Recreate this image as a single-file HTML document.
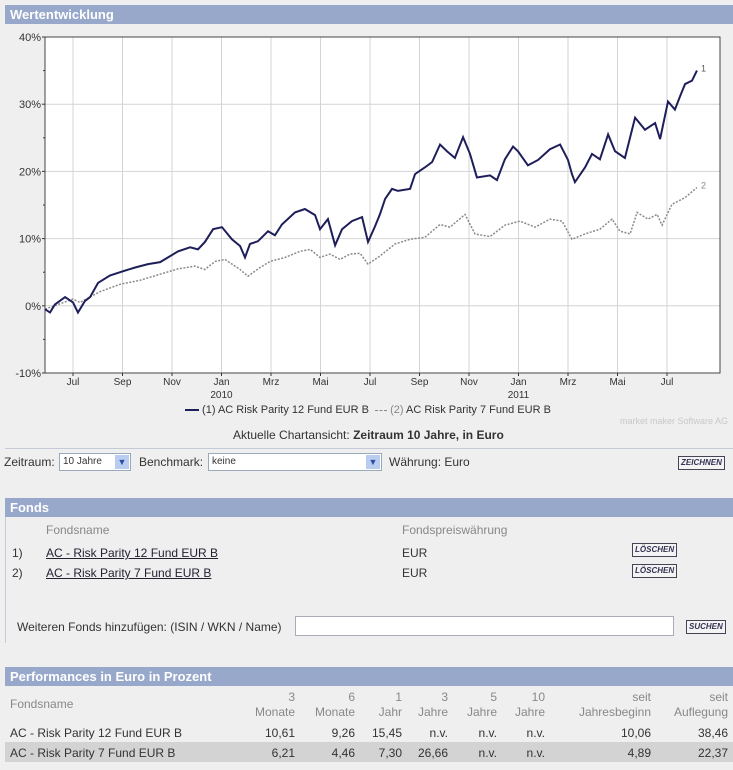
<!DOCTYPE html>
<html><head><meta charset="utf-8">
<style>
body{margin:0;width:733px;height:770px;background:#efefef;font-family:"Liberation Sans",Arial,sans-serif;font-size:12px;color:#333;position:relative;overflow:hidden}
.a{position:absolute;white-space:nowrap}
.bar{position:absolute;left:5px;width:728px;height:19px;background:#97a8cb;color:#fff;font-weight:bold;font-size:13px;line-height:19px;text-indent:5px}
.btn{position:absolute;border:1px solid #445;background:#f4f4f4;font-size:8px;font-weight:bold;font-style:italic;color:#335;padding:1px 2px;line-height:10px}
.g{color:#888}
.r{text-align:right}
</style></head><body>
<div class="bar" style="top:5px">Wertentwicklung</div>
<svg class="a" style="left:0;top:25px" width="733" height="420">
<g id="chart" transform="translate(0,-25)"></g>
</svg>
<div class="a" style="left:185px;top:404px;font-size:11px"><span style="display:inline-block;width:14px;height:2px;background:#1e1e5a;vertical-align:middle"></span> (1) AC Risk Parity 12 Fund EUR B &nbsp;<span style="display:inline-block;width:12px;border-top:1px dashed #888;vertical-align:middle"></span> <span class="g">(2)</span> AC Risk Parity 7 Fund EUR B</div>
<div class="a" style="right:5px;top:416px;font-size:9px;color:#c8c8c8">market maker Software AG</div>
<div class="a" style="left:233px;top:428px;font-size:12px">Aktuelle Chartansicht: <b>Zeitraum 10 Jahre, in Euro</b></div>
<div class="a" style="left:5px;top:448px;width:728px;border-top:1px solid #c4cad8"></div>
<div class="a" style="left:4px;top:455px">Zeitraum:</div>
<div class="a" style="left:59px;top:453px;width:70px;height:16px;background:#fff;border:1px solid #9ab;font-size:10px;line-height:16px;text-indent:3px">10 Jahre<span style="position:absolute;right:1px;top:1px;width:14px;height:14px;background:#b9cdf0;color:#2a4fa0;font-size:9px;text-indent:0;text-align:center;line-height:14px">▼</span></div>
<div class="a" style="left:139px;top:455px">Benchmark:</div>
<div class="a" style="left:208px;top:453px;width:172px;height:16px;background:#fff;border:1px solid #9ab;font-size:10px;line-height:16px;text-indent:3px">keine<span style="position:absolute;right:1px;top:1px;width:14px;height:14px;background:#b9cdf0;color:#2a4fa0;font-size:9px;text-indent:0;text-align:center;line-height:14px">▼</span></div>
<div class="a" style="left:389px;top:455px">Währung: Euro</div>
<div class="btn" style="left:678px;top:456px">ZEICHNEN</div>

<div class="bar" style="top:498px">Fonds</div>
<div class="a" style="left:5px;top:517px;height:126px;border-left:1px solid #c4cad8"></div>
<div class="a g" style="left:46px;top:523px">Fondsname</div>
<div class="a g" style="left:402px;top:523px">Fondspreiswährung</div>
<div class="a" style="left:12px;top:546px">1)</div>
<div class="a" style="left:46px;top:546px;text-decoration:underline;color:#223">AC - Risk Parity 12 Fund EUR B</div>
<div class="a" style="left:402px;top:546px">EUR</div>
<div class="btn" style="left:632px;top:543px">LÖSCHEN</div>
<div class="a" style="left:12px;top:566px">2)</div>
<div class="a" style="left:46px;top:566px;text-decoration:underline;color:#223">AC - Risk Parity 7 Fund EUR B</div>
<div class="a" style="left:402px;top:566px">EUR</div>
<div class="btn" style="left:632px;top:564px">LÖSCHEN</div>
<div class="a" style="left:17px;top:620px">Weiteren Fonds hinzufügen: (ISIN / WKN / Name)</div>
<div class="a" style="left:295px;top:616px;width:377px;height:18px;background:#fff;border:1px solid #aab"></div>
<div class="btn" style="left:686px;top:620px">SUCHEN</div>

<div class="bar" style="top:667px">Performances in Euro in Prozent</div>
<div class="a" style="left:5px;top:742px;width:728px;height:20px;background:#d3d3d3"></div>
<div id="tbl"></div>
<script>
// ---- chart data ----
const yTicks=[40,30,20,10,0,-10];
const monthLabels=["Jul","Sep","Nov","Jan","Mrz","Mai","Jul","Sep","Nov","Jan","Mrz","Mai","Jul"];
const monthPos=[0,2,4,6,8,10,12,14,16,18,20,22,24];
const yearLabels=["2010","2011"];
const yearPos=[6,18];
const t1=[-1.13,-0.93,-0.73,-0.32,0,0.2,0.48,0.69,1.01,1.49,1.98,2.51,3.03,3.52,3.84,4.24,4.73,5.05,5.33,5.66,6.02,6.42,6.75,6.95,7.15,7.47,7.88,8.16,8.44,8.97,9.37,9.78,9.98,10.3,10.59,10.87,11.27,11.68,11.92,12.2,12.4,12.61,12.89,13.13,13.62,13.82,14.22,14.51,14.83,15.11,15.43,15.76,16.04,16.32,16.85,17.13,17.45,17.78,17.98,18.38,18.79,19.27,19.68,20,20.16,20.28,20.69,20.97,21.29,21.62,21.9,22.3,22.71,23.11,23.52,23.72,24.04,24.32,24.53,24.73,25.01,25.21];
const v1=[-0.5,-1,0.2,1.3,0.5,-1,0.7,1.3,3.4,4.5,5.1,5.7,6.2,6.5,7.2,8.1,8.7,8.4,9.5,11.4,11.7,9.9,8.9,7.2,9.2,9.6,11.1,10.5,12.1,13.9,14.4,13.5,11.4,12.9,9.0,11.4,12.6,13.2,9.5,11.8,13.6,15.9,17.4,17.1,17.4,19.6,20.6,21.4,24.0,23.0,22.0,25.1,22.6,19.1,19.4,18.7,21.8,23.7,23.0,20.9,21.7,23.3,24.0,21.7,19.6,18.4,20.6,22.6,21.8,25.5,23.0,22.0,28.0,26.2,27.2,24.8,30.4,29.2,31.2,33.0,33.5,35.0];
const t2=[-1.13,0,0.28,1.09,1.9,2.71,3.52,4.24,4.93,5.33,5.74,6.14,6.75,7.07,7.56,7.96,8.57,9.17,9.58,9.98,10.38,10.79,11.19,11.6,11.92,12.4,13.01,13.62,14.22,14.83,15.23,15.84,16.24,16.85,17.45,18.06,18.67,19.27,19.76,20.16,20.69,21.29,21.78,22.1,22.51,22.79,23.23,23.6,23.8,24.2,24.73,25.21];
const v2=[-0.5,1.0,0.5,2.1,3.2,3.8,4.7,5.5,5.9,5.4,6.6,6.9,5.4,4.4,5.7,6.6,7.2,8.1,8.4,7.2,7.7,6.9,7.7,7.8,6.2,7.4,9.2,9.9,10.2,12.1,11.7,13.6,10.7,10.3,12.0,12.6,11.7,12.9,12.6,9.9,10.7,11.4,12.9,11.1,10.7,13.9,12.9,13.6,12.0,15.1,16.1,17.6];
// ---- perf table data ----
const perfHead=[["3","Monate"],["6","Monate"],["1","Jahr"],["3","Jahre"],["5","Jahre"],["10","Jahre"],["seit","Jahresbeginn"],["seit","Auflegung"]];
const perfNames=["AC - Risk Parity 12 Fund EUR B","AC - Risk Parity 7 Fund EUR B"];
const perf1=["10,61","9,26","15,45","n.v.","n.v.","n.v.","10,06","38,46"];
const perf2=["6,21","4,46","7,30","26,66","n.v.","n.v.","4,89","22,37"];

const L=45,R=720,T=37,B=373;
const X=m=>73+m*24.75;
const Y=v=>T+(40-v)*(B-T)/50;
const NS="http://www.w3.org/2000/svg";
const g=document.getElementById('chart');
function el(n,a){const e=document.createElementNS(NS,n);for(const k in a)e.setAttribute(k,a[k]);g.appendChild(e);return e;}
el('rect',{x:L,y:T,width:R-L,height:B-T,fill:'#fff'});
yTicks.forEach(v=>{
  const l=el('line',{x1:L,x2:R,y1:Y(v),y2:Y(v),stroke:'#d4d4d4'});
  
  
  const t=el('text',{x:L-4,y:Y(v)+4,'text-anchor':'end','font-size':11,fill:'#333'});t.textContent=v+'%';
  
  
  el('line',{x1:L-3,x2:L,y1:Y(v),y2:Y(v),stroke:'#333'});
  if(v>-10)el('line',{x1:L-2,x2:L,y1:Y(v-5),y2:Y(v-5),stroke:'#333'});
});
monthPos.forEach((m,i)=>{
  const l=el('line',{x1:X(m),x2:X(m),y1:T,y2:B,stroke:'#d4d4d4'});
  
  
  el('line',{x1:X(m),x2:X(m),y1:B,y2:B+3,stroke:'#333'});
  const t=el('text',{x:X(m),y:B+12,'text-anchor':'middle','font-size':10,fill:'#333'});t.textContent=monthLabels[i];
  
  
});
yearPos.forEach((m,i)=>{
  const t=el('text',{x:X(m),y:B+25,'text-anchor':'middle','font-size':10,fill:'#333'});t.textContent=yearLabels[i];
  
  
});
el('path',{d:`M${L},${T}H${R}V${B}H${L}Z`,fill:'none',stroke:'#444'});
const p2=el('polyline',{points:t2.map((m,i)=>X(m)+','+Y(v2[i])).join(' '),fill:'none',stroke:'#8a8a8a','stroke-width':1.5,'stroke-dasharray':'2,1.5'});


const p1=el('polyline',{points:t1.map((m,i)=>X(m)+','+Y(v1[i])).join(' '),fill:'none',stroke:'#1e1e5a','stroke-width':2});


let e1=el('text',{x:X(t1[t1.length-1])+4,y:Y(v1[v1.length-1])+1,'font-size':9,fill:'#555'});e1.textContent='1';
let e2=el('text',{x:X(t2[t2.length-1])+4,y:Y(v2[v2.length-1])+1,'font-size':9,fill:'#888'});e2.textContent='2';

// table
const tbl=document.getElementById('tbl');
const colR=[295,355,402,448,497,545,651,728];
function div(txt,css,cls){const d=document.createElement('div');d.className='a '+(cls||'');d.style.cssText=css;d.textContent=txt;tbl.appendChild(d);return d;}
const fh=div('Fondsname','left:10px;top:697px','g');


perfHead.forEach((h,i)=>{
  const a=div(h[0],'right:'+(733-colR[i])+'px;top:690px','g');
  
  
  div(h[1],'right:'+(733-colR[i])+'px;top:705px','g');
});
[perf1,perf2].forEach((row,r)=>{
  const top=r?746:726;
  const n=div(perfNames[r],'left:10px;top:'+top+'px');
  
  
  row.forEach((v,i)=>{
    const c=div(v,'right:'+(733-colR[i])+'px;top:'+top+'px');
    
    
  });
});
</script>
</body></html>
